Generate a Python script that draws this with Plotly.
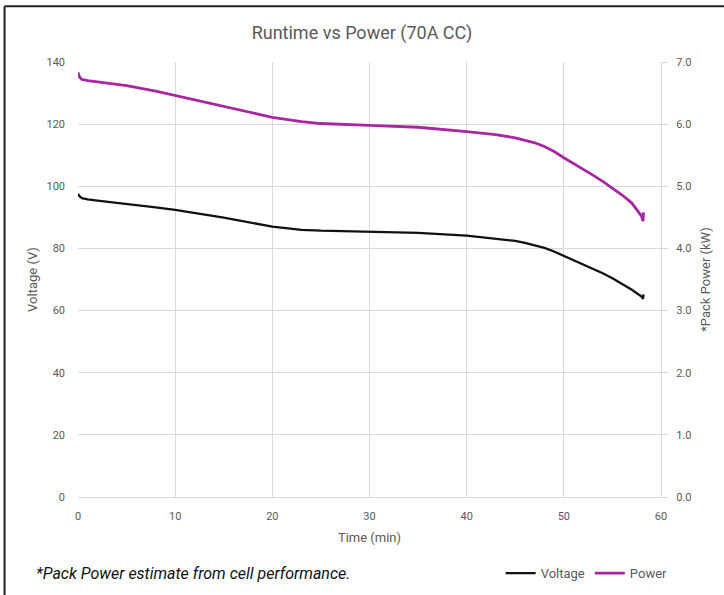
import plotly.graph_objects as go

time_min = [0, 0.15, 0.4, 1, 2, 5, 8, 10, 15, 20, 23, 25, 30, 35, 40, 43, 45, 46, 47, 48, 49, 50,
            51, 52, 53, 54, 55, 56, 57, 58, 58.15, 58.2]
voltage_v = [97.6, 96.8, 96.2, 95.8, 95.4, 94.4, 93.2, 92.4, 89.9, 87.0, 86.0, 85.7, 85.3, 85.0, 84.1, 83.2, 82.4,
             81.8, 81.1, 80.2, 79.0, 77.6, 76.3, 74.9, 73.5, 72.0, 70.4, 68.6, 66.7, 64.5, 63.8, 65.2]
power_kw = [6.83, 6.76, 6.72, 6.70, 6.68, 6.62, 6.53, 6.46, 6.29, 6.11, 6.04, 6.01, 5.98, 5.95, 5.88, 5.83, 5.78,
            5.74, 5.70, 5.64, 5.56, 5.46, 5.37, 5.28, 5.18, 5.08, 4.97, 4.86, 4.73, 4.52, 4.44, 4.58]

x_ticks = [0, 10, 20, 30, 40, 50, 60]
v_ticks = [0, 20, 40, 60, 80, 100, 120, 140]
p_ticks = [0.0, 1.0, 2.0, 3.0, 4.0, 5.0, 6.0, 7.0]

title_text = "Runtime vs Power (70A CC)"
footnote = "*Pack Power estimate from cell performance."

grey = "#595959"
grid = "#d9d9d9"
font_fam = "Roboto, Inter, sans-serif"

fig = go.Figure()
fig.add_trace(go.Scatter(x=time_min, y=voltage_v, name="Voltage", mode="lines",
                         line=dict(color="#111111", width=2.3, shape="linear")))
fig.add_trace(go.Scatter(x=time_min, y=power_kw, name="Power", mode="lines", yaxis="y2",
                         line=dict(color="#A6279F", width=2.8, shape="linear")))

fig.update_layout(
    width=724, height=595,
    margin=dict(l=78, r=63, t=62, b=98, autoexpand=False),
    paper_bgcolor="white", plot_bgcolor="white",
    font=dict(family=font_fam, color=grey, size=11),
    title=dict(text=title_text, x=0.5, xanchor="center", y=0.945, yanchor="middle",
               font=dict(size=18, color=grey, family=font_fam)),
    xaxis=dict(range=[0, 60], tickvals=x_ticks, showgrid=True, gridcolor=grid, gridwidth=1,
               showline=True, linecolor=grid, linewidth=1, zeroline=False, ticks="",
               automargin=False, ticklabelstandoff=9,
               title=dict(text="Time (min)", font=dict(size=13, color=grey), standoff=10),
               tickfont=dict(size=11, color=grey)),
    yaxis=dict(range=[0, 140], tickvals=v_ticks, showgrid=True, gridcolor=grid, gridwidth=1,
               showline=False, zeroline=False, ticks="", automargin=False, ticklabelstandoff=12,
               title=dict(text="Voltage (V)", font=dict(size=13, color=grey), standoff=5),
               tickfont=dict(size=11, color=grey)),
    yaxis2=dict(range=[0, 7], tickvals=p_ticks, tickformat=".1f", overlaying="y", side="right",
                showgrid=False, showline=True, linecolor=grid, linewidth=1, zeroline=False,
                ticks="outside", ticklen=6, tickcolor=grid, automargin=False, ticklabelstandoff=6,
                title=dict(text="*Pack Power (kW)", font=dict(size=13, color=grey), standoff=10),
                tickfont=dict(size=11, color=grey)),
    legend=dict(orientation="h", x=1.02, xanchor="right", y=-0.175, yanchor="middle",
                font=dict(size=13, color=grey), itemwidth=30, tracegroupgap=0,
                bgcolor="rgba(0,0,0,0)"),
    showlegend=True,
)

fig.add_annotation(text="<i>" + footnote + "</i>", xref="paper", yref="paper", x=-0.075, y=-0.175,
                   xanchor="left", yanchor="middle", showarrow=False,
                   font=dict(size=16, color="#111111", family=font_fam))

# chart frame (top and left edges visible in reference)
fig.add_shape(type="line", xref="paper", yref="paper", x0=-0.126, x1=1.2, y0=1.128, y1=1.128,
              line=dict(color="#222222", width=2))
fig.add_shape(type="line", xref="paper", yref="paper", x0=-0.126, x1=-0.126, y0=-0.3, y1=1.128,
              line=dict(color="#222222", width=2))

fig.write_html("out.html", config={"displayModeBar": False},
               post_script="document.body.style.margin='0';")
